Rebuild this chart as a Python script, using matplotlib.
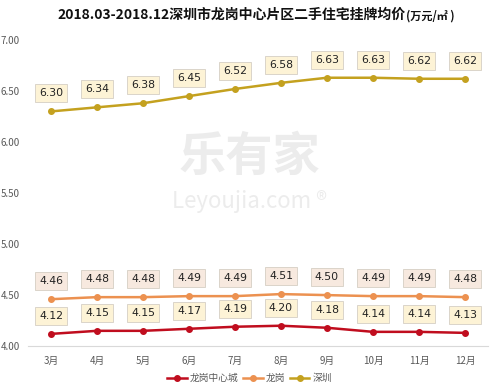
import matplotlib
matplotlib.use("Agg")
import matplotlib.pyplot as plt
from matplotlib.ticker import FormatStrFormatter

plt.rcParams['font.family'] = ['Noto Sans CJK SC', 'DejaVu Sans']

months = ["3月", "4月", "5月", "6月", "7月", "8月", "9月", "10月", "11月", "12月"]
center_city = [4.12, 4.15, 4.15, 4.17, 4.19, 4.20, 4.18, 4.14, 4.14, 4.13]
longgang = [4.46, 4.48, 4.48, 4.49, 4.49, 4.51, 4.50, 4.49, 4.49, 4.48]
shenzhen = [6.30, 6.34, 6.38, 6.45, 6.52, 6.58, 6.63, 6.63, 6.62, 6.62]
series_names = ["龙岗中心城", "龙岗", "深圳"]

colors = ["#c00d1e", "#ec9150", "#c4a11f"]
label_bg = ["#fdf3d6", "#f7e9df", "#fdf3d6"]

fig = plt.figure(figsize=(4.99, 3.92), dpi=100)
ax = fig.add_axes([0.056, 0.117, 0.922, 0.781])

x = list(range(len(months)))
for vals, name, c, bg in zip([center_city, longgang, shenzhen], series_names, colors, label_bg):
    ax.plot(x, vals, color=c, lw=1.8, marker='o', ms=4, label=name, zorder=3)
    for xi, v in zip(x, vals):
        ax.annotate(f"{v:.2f}", (xi, v), xytext=(0, 13), textcoords='offset points',
                    ha='center', va='center', fontsize=7.8, color='#222222',
                    family=['DejaVu Sans'],
                    bbox=dict(boxstyle='square,pad=0.38', facecolor=bg,
                              edgecolor='#d5cfc4', lw=0.6), zorder=5)

ax.set_xlim(-0.5, len(months) - 0.5)
ax.set_ylim(4.0, 7.0)
ax.set_yticks([4.0, 4.5, 5.0, 5.5, 6.0, 6.5, 7.0])
ax.yaxis.set_major_formatter(FormatStrFormatter('%.2f'))
ax.set_xticks(x)
ax.set_xticklabels(months)
ax.tick_params(axis='both', length=0, labelsize=7, colors='#595959')
ax.tick_params(axis='x', pad=7)
ax.tick_params(axis='y', pad=6)
for s in ['top', 'right', 'left']:
    ax.spines[s].set_visible(False)
ax.spines['bottom'].set_color('#d9d9d9')
ax.spines['bottom'].set_linewidth(0.8)

# watermark
fig.text(0.5, 0.60, "乐有家", fontsize=34, color='#ececec', ha='center', va='center',
         fontweight='bold', zorder=0)
fig.text(0.5, 0.485, "Leyoujia.com ®", fontsize=16, color='#ececec', ha='center', va='center',
         zorder=0)

fig.text(0.813, 0.962, "2018.03-2018.12深圳市龙岗中心片区二手住宅挂牌均价", fontsize=10,
         fontweight='bold', ha='right', va='center', color='#111111')
fig.text(0.813, 0.958, "(万元/㎡ )", fontsize=8, fontweight='bold', ha='left', va='center',
         color='#111111')

leg = fig.legend(loc='center', bbox_to_anchor=(0.5, 0.035), ncol=3, frameon=False,
                 fontsize=7, handlelength=2.0, columnspacing=0.5, handletextpad=0.3)
for t in leg.get_texts():
    t.set_color('#595959')

fig.savefig("out.png", dpi=100)
